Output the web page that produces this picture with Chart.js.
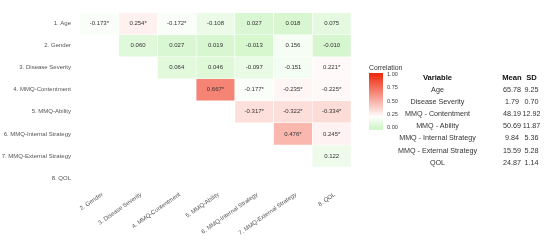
<!DOCTYPE html>
<html><head><meta charset="utf-8">
<script src="https://cdn.jsdelivr.net/npm/chart.js@4/dist/chart.umd.min.js"></script>
<style>
html,body{margin:0;padding:0;background:#fff;}
#wrap{position:relative;width:550px;height:241px;overflow:hidden;}
#c{position:absolute;left:0;top:0;}
.t{position:absolute;white-space:nowrap;font-family:"Liberation Sans",Arial,sans-serif;font-size:7.2px;line-height:9px;color:#333;transform:translateX(-50%);}
.h{font-weight:bold;font-size:7.6px;color:#111;}
</style></head><body>
<div id="wrap"><canvas id="c" width="550" height="241"></canvas><div id="tbl"></div></div>
<script>
const rowLabels = ["1. Age","2. Gender","3. Disease Severity","4. MMQ-Contentment","5. MMQ-Ability","6. MMQ-Internal Strategy","7. MMQ-External Strategy","8. QOL"];
const colLabels = ["2. Gender","3. Disease Severity","4. MMQ-Contentment","5. MMQ-Ability","6. MMQ-Internal Strategy","7. MMQ-External Strategy","8. QOL"];
const corrAge      = [-0.173, 0.254, -0.172, -0.108, 0.027, 0.018, 0.075];
const corrGender   = [null, 0.060, 0.027, 0.019, -0.013, 0.156, -0.010];
const corrSeverity = [null, null, 0.064, 0.046, -0.097, -0.151, 0.221];
const corrContent  = [null, null, null, 0.667, -0.177, -0.235, -0.225];
const corrAbility  = [null, null, null, null, -0.317, -0.322, -0.334];
const corrInternal = [null, null, null, null, null, 0.476, 0.245];
const corrExternal = [null, null, null, null, null, null, 0.122];
const corrQOL      = [null, null, null, null, null, null, null];
const sigAge      = [1,1,1,0,0,0,0];
const sigGender   = [0,0,0,0,0,0,0];
const sigSeverity = [0,0,0,0,0,0,1];
const sigContent  = [0,0,0,1,1,1,1];
const sigAbility  = [0,0,0,0,1,1,1];
const sigInternal = [0,0,0,0,0,1,1];
const sigExternal = [0,0,0,0,0,0,0];
const sigQOL      = [0,0,0,0,0,0,0];
const legendTicks = [0.00, 0.25, 0.50, 0.75, 1.00];
const tableVars  = ["Age","Disease Severity","MMQ - Contentment","MMQ - Ability","MMQ - Internal Strategy","MMQ - External Strategy","QOL"];
const tableMeans = ["65.78","1.79","48.19","50.69","9.84","15.59","24.87"];
const tableSDs   = ["9.25","0.70","12.92","11.87","5.36","5.28","1.14"];

const corr = [corrAge,corrGender,corrSeverity,corrContent,corrAbility,corrInternal,corrExternal,corrQOL];
const sig  = [sigAge,sigGender,sigSeverity,sigContent,sigAbility,sigInternal,sigExternal,sigQOL];

const GREEN=[212,246,204], WHITE=[255,255,255], RED=[238,45,18], MIDV=0.2;
function mix(a,b,f){return a.map((v,i)=>Math.round(v+(b[i]-v)*f));}
function colorFor(r){
  const t=Math.min(1,Math.abs(r));
  const c = t<MIDV ? mix(GREEN,WHITE,t/MIDV) : mix(WHITE,RED,(t-MIDV)/(1-MIDV));
  return `rgb(${c[0]},${c[1]},${c[2]})`;
}
const FONT='"Liberation Sans", Arial, sans-serif';

const datasets = corr.map((row,i)=>({
  label: rowLabels[i],
  data: row.map(v => v==null ? null : [i+0.5, i+1.5]),
  backgroundColor: ctx => { const v=corr[ctx.datasetIndex][ctx.dataIndex]; return v==null?'rgba(0,0,0,0)':colorFor(v); },
  borderColor:'#ffffff', borderWidth:0.6, borderSkipped:false,
  barPercentage:1, categoryPercentage:1, grouped:false
}));

const cellText = {
  id:'cellText',
  afterDatasetsDraw(chart){
    const {ctx, scales:{x,y}} = chart;
    ctx.save();
    ctx.font = `6px ${FONT}`; ctx.fillStyle='#333'; ctx.textAlign='center'; ctx.textBaseline='middle';
    corr.forEach((row,i)=>row.forEach((v,j)=>{
      if(v==null) return;
      ctx.fillText(v.toFixed(3)+(sig[i][j]?'*':''), x.getPixelForValue(j), y.getPixelForValue(i+1));
    }));
    ctx.restore();
  }
};
const colorLegend = {
  id:'colorLegend',
  afterDraw(chart){
    const ctx=chart.ctx;
    const bx=369, bw=14, y0=127.5, y1=74.5;
    const pos = v => y0 + (y1-y0)*v;
    ctx.save();
    ctx.font=`6.8px ${FONT}`; ctx.fillStyle='#333'; ctx.textAlign='left'; ctx.textBaseline='alphabetic';
    ctx.fillText('Correlation', 369, 70);
    for(let yy=Math.round(pos(1))-2; yy<Math.round(pos(0))+2; yy++){
      let v=(yy+0.5-y0)/(y1-y0); v=Math.max(0,Math.min(1,v));
      ctx.fillStyle=colorFor(v); ctx.fillRect(bx,yy,bw,1);
    }
    ctx.font=`5.6px ${FONT}`; ctx.fillStyle='#444'; ctx.textBaseline='middle';
    legendTicks.forEach(v=>ctx.fillText(v.toFixed(2), 387, pos(v)));
    ctx.restore();
  }
};

new Chart(document.getElementById('c'), {
  type:'bar',
  data:{labels:colLabels, datasets},
  options:{
    responsive:false, animation:false,
    layout:{padding:{top:2,right:199,left:0,bottom:0}},
    plugins:{legend:{display:false}, tooltip:{enabled:false}},
    scales:{
      x:{
        type:'category', offset:true,
        grid:{display:false, drawTicks:false}, border:{display:false},
        ticks:{autoSkip:false, maxRotation:35, minRotation:35, padding:2, labelOffset:3, color:'#555', font:{family:FONT,size:6}},
        afterFit(s){ s.height=52; }
      },
      y:{
        type:'linear', reverse:true, min:0.5, max:8.5,
        grid:{display:false, drawTicks:false}, border:{display:false},
        afterBuildTicks(s){ s.ticks = rowLabels.map((_,i)=>({value:i+1})); },
        ticks:{autoSkip:false, padding:9, color:'#555', font:{family:FONT,size:6},
          callback:(v)=>rowLabels[Math.round(v)-1] || ''},
        afterFit(s){ s.width=80; }
      }
    }
  },
  plugins:[cellText, colorLegend]
});

const tbl=document.getElementById('tbl');
function addText(txt,x,y,cls){const d=document.createElement('div');d.className='t '+(cls||'');d.textContent=txt;d.style.left=x+'px';d.style.top=(y-4.5)+'px';tbl.appendChild(d);}
addText('Variable',437.5,77,'h'); addText('Mean',512,77,'h'); addText('SD',531.5,77,'h');
tableVars.forEach((v,i)=>{const y=89+i*12.2; addText(v,437.5,y); addText(tableMeans[i],512,y); addText(tableSDs[i],531.5,y);});
</script>
</body></html>
